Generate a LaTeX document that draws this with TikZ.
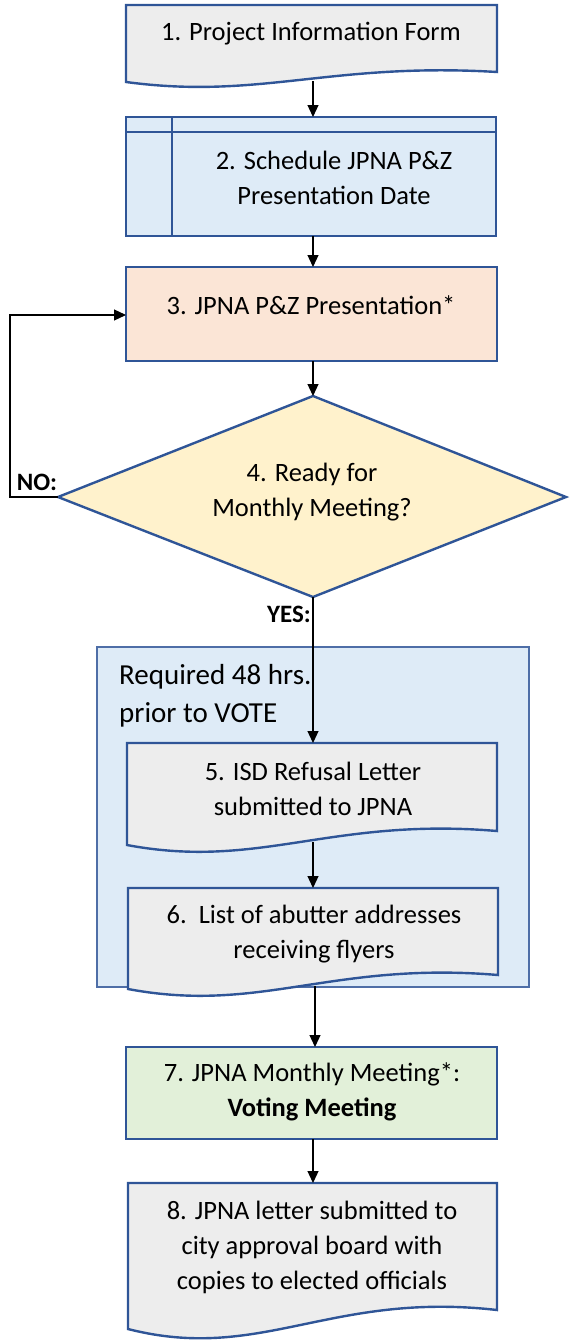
\documentclass[tikz,border=0pt]{standalone}
\usepackage{fontspec}
\setmainfont{Carlito}
\usetikzlibrary{arrows.meta}
\definecolor{bord}{HTML}{2F5597}
\definecolor{docfill}{HTML}{EDEDED}
\definecolor{bluefill}{HTML}{DEEBF7}
\definecolor{peach}{HTML}{FBE5D6}
\definecolor{yel}{HTML}{FFF2CC}
\definecolor{grn}{HTML}{E2F0D9}
\tikzset{
  shapebox/.style={draw=bord, line width=2.4pt, line join=miter},
  groupbox/.style={draw=bord!85, line width=1.6pt, fill=bluefill},
  conn/.style={draw=black, line width=1.2pt, -{Triangle[length=12pt,width=11pt]}},
  txt/.style={align=center, font=\fontsize{26.5}{35}\selectfont, inner sep=0pt},
  lbl/.style={font=\fontsize{25}{28}\selectfont\bfseries, inner sep=0pt},
}
\begin{document}
\begin{tikzpicture}[x=1pt,y=-1pt]
\useasboundingbox (0,0) rectangle (571,1341);
% group box
\path[groupbox] (97,647) rectangle (529,987);
\node[anchor=west, align=left, font=\fontsize{29}{38}\selectfont, inner sep=0pt] (grp) at (119,696) {Required 48 hrs.\\prior to VOTE};
% box 1 (document)
\path[shapebox, fill=docfill] (126,5) -- (497,5) -- (497,72) .. controls (330,62) and (260,100) .. (126,82) -- cycle;
\node[txt] (t1) at (311,34) {1. Project Information Form};
\coordinate (b1s) at (313,81);
% box 2 (internal storage)
\path[shapebox, fill=bluefill] (126,117) rectangle (496,236);
\draw[shapebox] (126,132) -- (496,132) (172,117) -- (172,236);
\node[txt] (t2) at (334,178) {2. Schedule JPNA P\&Z\\Presentation Date};
\coordinate (b2n) at (313,117);
\coordinate (b2s) at (313,236);
% box 3
\path[shapebox, fill=peach] (126,267) rectangle (497,361);
\node[txt] (t3) at (311,305) {3. JPNA P\&Z Presentation*};
\coordinate (b3n) at (313,267);
\coordinate (b3s) at (313,361);
\coordinate (b3w) at (126,315);
% diamond
\path[shapebox, fill=yel] (313,396) -- (566,497) -- (313,597) -- (58,497) -- cycle;
\node[txt] (t4) at (312,492) {4. Ready for\\Monthly Meeting?};
\coordinate (d4n) at (313,396);
\coordinate (d4s) at (313,597);
\coordinate (d4w) at (58,497);
\coordinate (nocorner1) at (10,497);
\coordinate (nocorner2) at (10,315);
\node[lbl] (no) at (37,482) {NO:};
\node[lbl] (yes) at (289,614) {YES:};
% box 5
\path[shapebox, fill=docfill] (127,743) -- (497,743) -- (497,831) .. controls (330,817) and (260,870) .. (127,845) -- cycle;
\node[txt] (t5) at (313,789) {5. ISD Refusal Letter\\submitted to JPNA};
\coordinate (b5n) at (313,743);
\coordinate (b5s) at (313,842);
% box 6
\path[shapebox, fill=docfill] (128,888) -- (498,888) -- (498,975) .. controls (331,961) and (261,1014) .. (128,989) -- cycle;
\node[txt] (t6) at (314,934) {6.\ \ List of abutter addresses\\receiving flyers};
\coordinate (b6n) at (313,888);
\coordinate (b6s) at (315,986);
% box 7
\path[shapebox, fill=grn] (126,1047) rectangle (497,1139);
\node[txt] (t7) at (312,1092) {7. JPNA Monthly Meeting*:\\\textbf{Voting Meeting}};
\coordinate (b7n) at (315,1047);
\coordinate (b7s) at (313,1139);
% box 8
\path[shapebox, fill=docfill] (128,1183) -- (497,1183) -- (497,1310) .. controls (330,1291) and (261,1363) .. (128,1329) -- cycle;
\node[txt] (t8) at (312,1247) {8. JPNA letter submitted to\\city approval board with\\copies to elected officials};
\coordinate (b8n) at (313,1183);
% connectors
\draw[conn] (b1s) -- (b2n);
\draw[conn] (b2s) -- (b3n);
\draw[conn] (b3s) -- (d4n);
\draw[conn] (d4w) -- (nocorner1) -- (nocorner2) -- (b3w);
\draw[conn] (d4s) -- (b5n);
\draw[conn] (b5s) -- (b6n);
\draw[conn] (b6s) -- (b7n);
\draw[conn] (b7s) -- (b8n);
\end{tikzpicture}
\end{document}
